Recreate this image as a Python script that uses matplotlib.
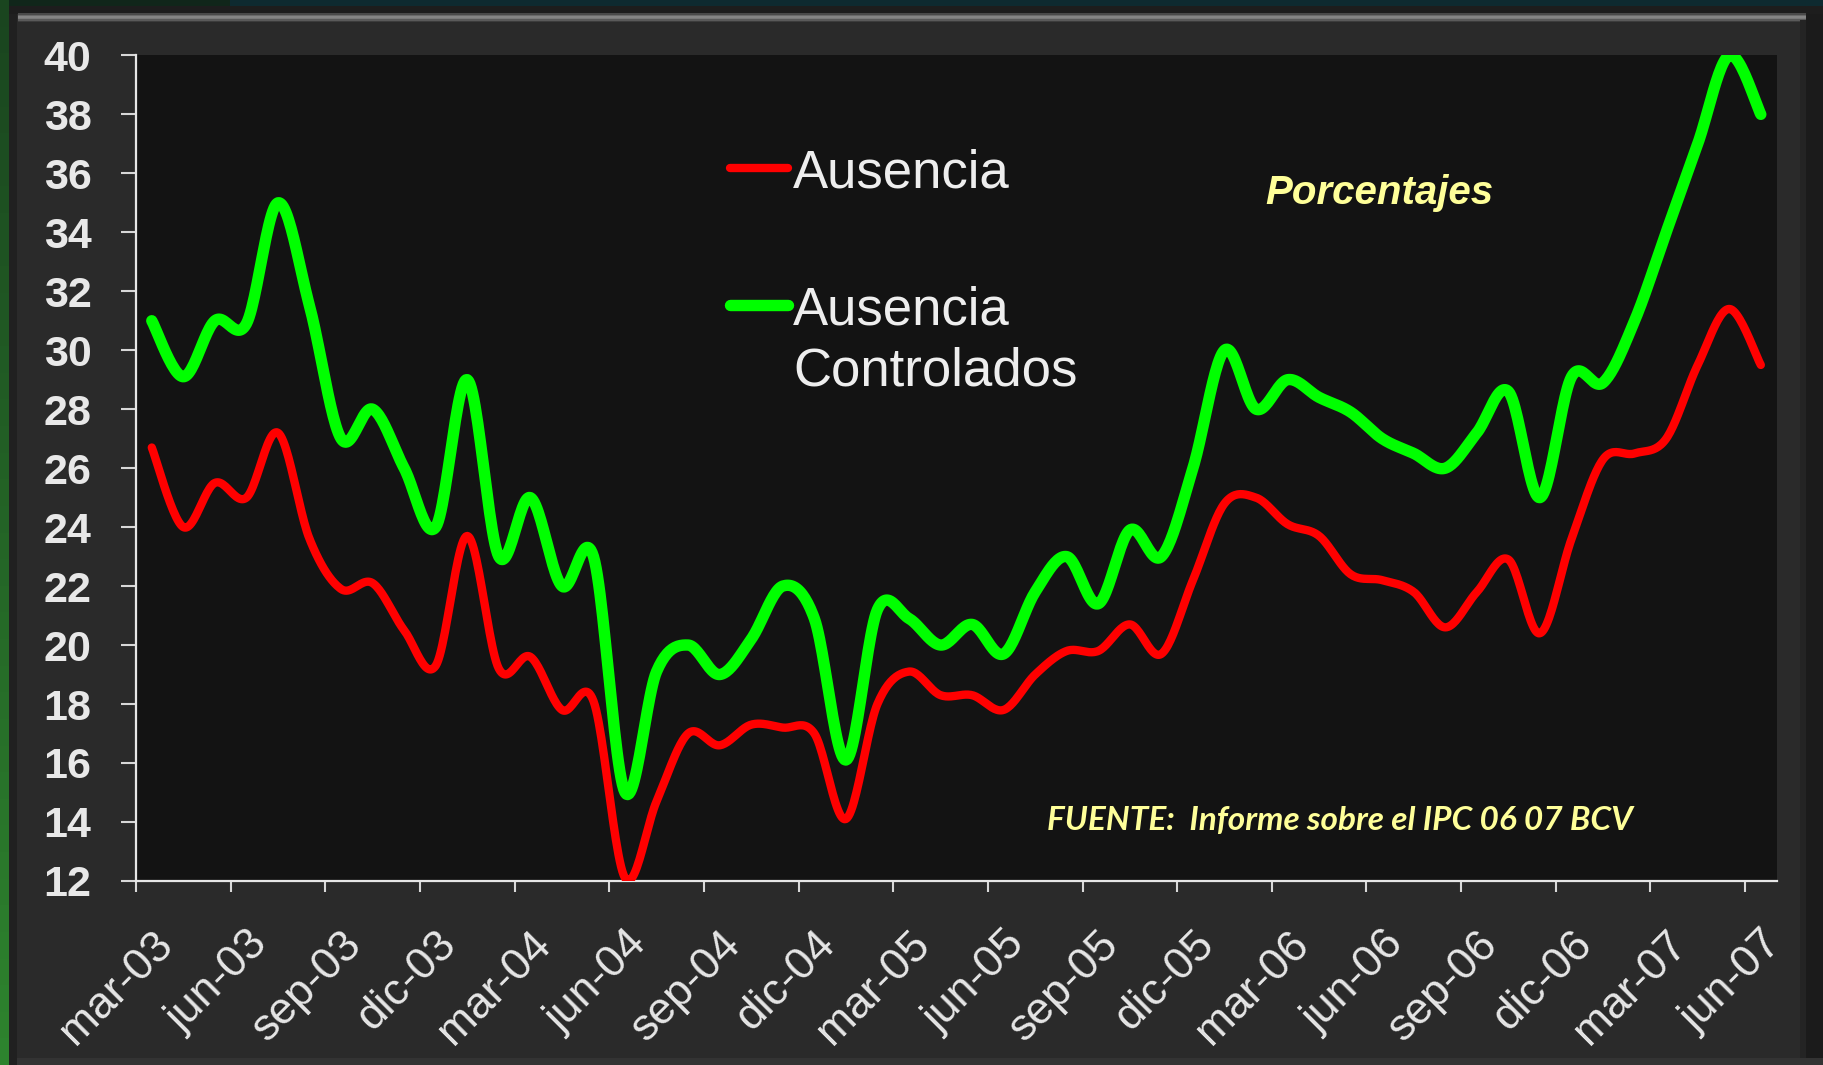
import numpy as np
import matplotlib
matplotlib.use("Agg")
import matplotlib.pyplot as plt
from matplotlib.patches import Rectangle
from matplotlib.lines import Line2D

# ---------------- data ----------------
months = ["mar-03", "jun-03", "sep-03", "dic-03", "mar-04", "jun-04", "sep-04",
          "dic-04", "mar-05", "jun-05", "sep-05", "dic-05", "mar-06", "jun-06",
          "sep-06", "dic-06", "mar-07", "jun-07"]
n_months = 52  # mar-03 .. jun-07

ausencia = [26.7, 24.0, 25.5, 25.0, 27.2, 23.6, 21.9, 22.1, 20.5,
            19.3, 23.7, 19.2, 19.6, 17.8, 18.1, 12.1, 14.7, 17.0,
            16.6, 17.3, 17.2, 17.0, 14.1, 18.0, 19.1, 18.3, 18.3,
            17.8, 19.0, 19.8, 19.8, 20.7, 19.7, 22.2, 24.8, 25.0,
            24.1, 23.7, 22.4, 22.2, 21.8, 20.6, 21.8, 22.9, 20.4,
            23.6, 26.3, 26.5, 27.0, 29.5, 31.4, 29.5]

ausencia_controlados = [31.0, 29.1, 31.0, 30.9, 35.0, 31.5, 27.0, 28.0, 26.0,
                        24.0, 29.0, 23.0, 25.0, 22.0, 23.0, 15.0, 19.1, 20.0,
                        19.0, 20.2, 22.0, 20.9, 16.1, 21.2, 20.9, 20.0, 20.7,
                        19.7, 21.8, 23.0, 21.4, 23.9, 23.0, 26.0, 30.0, 28.0,
                        29.0, 28.4, 27.9, 27.0, 26.5, 26.0, 27.2, 28.6, 25.0,
                        29.1, 28.9, 31.0, 34.0, 37.0, 40.0, 38.0]

y_ticks = list(range(12, 41, 2))


def smooth(vals, n=24):
    """Excel-like smoothed line (Catmull-Rom Bezier) through the points."""
    y = np.asarray(vals, float)
    x = np.arange(len(y), dtype=float)
    xs, ys = [], []
    m = len(y)
    for i in range(m - 1):
        p0 = max(i - 1, 0)
        p3 = min(i + 2, m - 1)
        c1x = x[i] + (x[i + 1] - x[p0]) / 6.0
        c1y = y[i] + (y[i + 1] - y[p0]) / 6.0
        c2x = x[i + 1] - (x[p3] - x[i]) / 6.0
        c2y = y[i + 1] - (y[p3] - y[i]) / 6.0
        t = np.linspace(0, 1, n, endpoint=(i == m - 2))
        a = (1 - t) ** 3
        b = 3 * (1 - t) ** 2 * t
        c = 3 * (1 - t) * t ** 2
        d = t ** 3
        xs.append(a * x[i] + b * c1x + c * c2x + d * x[i + 1])
        ys.append(a * y[i] + b * c1y + c * c2y + d * y[i + 1])
    return np.concatenate(xs), np.concatenate(ys)


W, H = 1824, 1065
fig = plt.figure(figsize=(W / 100, H / 100), dpi=100, facecolor="#2a2a2a")


def rect(x, y, w, h, color, z=0):
    fig.patches.append(Rectangle((x / W, 1 - (y + h) / H), w / W, h / H,
                                 transform=fig.transFigure, color=color,
                                 zorder=z, lw=0))


# frame decoration
rect(0, 0, W, 6, "#0e2a30")
rect(0, 0, 230, 6, "#10261a")
rect(0, 6, W, 8, "#1d1d1d")
for k, c in enumerate(["#4a4a4a", "#6a6a6a", "#858585", "#7a7a7a", "#5a5a5a", "#3c3c3c"]):
    rect(18, 13 + k * 1.5, W - 36, 1.6, c)
rect(1806, 14, 18, H - 14, "#1b1b1b")
rect(1800, 20, 6, H - 20, "#242424")
rect(0, 1058, W, 7, "#333333")
# green slide strip on the left (gradient)
for k in range(40):
    yy = k * H / 40
    g = 0.15 + 0.25 * k / 40
    rect(0, yy, 9, H / 40 + 1, (0.10 + 0.08 * k / 40, g + 0.12, 0.12 + 0.06 * k / 40))
rect(9, 14, 8, H - 14, "#202020")

# ---------------- axes ----------------
left, right, top, bottom = 136, 1776.6, 55.4, 880.9
ax = fig.add_axes([left / W, 1 - bottom / H, (right - left) / W, (bottom - top) / H])
ax.set_facecolor("#131313")

xr, yr = smooth(ausencia)
xg, yg = smooth(ausencia_controlados)
ax.plot(xg, yg, color="#00ff00", lw=8.2, solid_capstyle="round", zorder=3)
ax.plot(xr, yr, color="#ff0000", lw=6.0, solid_capstyle="round", zorder=4)

ax.set_xlim(-0.5, n_months - 0.5)
ax.set_ylim(12, 40)

for s in ["top", "right"]:
    ax.spines[s].set_visible(False)
for s in ["left", "bottom"]:
    ax.spines[s].set_color("#e6e6e6")
    ax.spines[s].set_linewidth(1.6)

ax.set_yticks(y_ticks)
ax.set_yticklabels([str(v) for v in y_ticks])
ax.tick_params(axis="y", direction="out", length=11, width=1.5, color="#d8d8d8",
               pad=21, labelcolor="#e8e8e8", labelsize=31)
for lab in ax.get_yticklabels():
    lab.set_fontfamily("Liberation Sans")
    lab.set_fontweight("bold")

# major ticks between categories, every 3 months (no labels)
ax.set_xticks([3 * k - 0.5 for k in range(len(months))])
ax.set_xticklabels([])
ax.tick_params(axis="x", which="major", direction="out", length=8, width=1.5,
               color="#d8d8d8")
# labels centred on the categories
ax.set_xticks([3 * k for k in range(len(months))], minor=True)
ax.set_xticklabels(months, minor=True)
ax.tick_params(axis="x", which="minor", length=0, pad=31, labelcolor="#e6e6e6",
               labelsize=32)
for lab in ax.get_xticklabels(minor=True):
    lab.set_fontfamily("Liberation Sans")
    lab.set_rotation(45)
    lab.set_ha("right")
    lab.set_va("top")
    lab.set_rotation_mode("anchor")


# legend drawn inside the plot area
def fx(px):
    return (px - left) / (right - left)


def fy(py):
    return (bottom - py) / (bottom - top)


ax.add_line(Line2D([fx(730), fx(788)], [fy(168), fy(168)], transform=ax.transAxes,
                   color="#ff0000", lw=6.0, solid_capstyle="round", zorder=5))
ax.add_line(Line2D([fx(730), fx(788)], [fy(305), fy(305)], transform=ax.transAxes,
                   color="#00ff00", lw=8.2, solid_capstyle="round", zorder=5))
legend_font = dict(transform=ax.transAxes, color="#eeeeee", fontsize=38,
                   family="Liberation Sans", ha="left", va="center_baseline")
ax.text(fx(793), fy(168), "Ausencia", **legend_font)
ax.text(fx(793), fy(305), "Ausencia", **legend_font)
ax.text(fx(793), fy(366), "Controlados", **legend_font)

ax.text(fx(1379), fy(193), "Porcentajes", transform=ax.transAxes, color="#ffff99",
        fontsize=29, family="Liberation Sans", fontweight="bold", style="italic",
        ha="center", va="center")
ax.text(fx(1340), fy(820), "FUENTE:  Informe sobre el IPC 06 07 BCV",
        transform=ax.transAxes, color="#ffff99", fontsize=24, family="Lato",
        fontweight="bold", style="italic", ha="center", va="center")

fig.savefig("out.png", dpi=100, facecolor=fig.get_facecolor())
